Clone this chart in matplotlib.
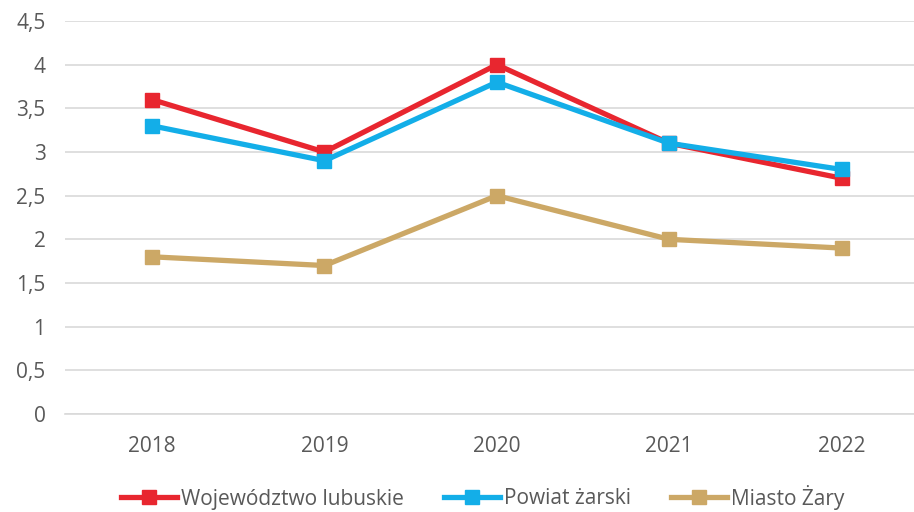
import matplotlib
matplotlib.use("Agg")
import matplotlib.pyplot as plt

years = ["2018", "2019", "2020", "2021", "2022"]
woj = [3.6, 3.0, 4.0, 3.1, 2.7]
powiat = [3.3, 2.9, 3.8, 3.1, 2.8]
miasto = [1.8, 1.7, 2.5, 2.0, 1.9]
labels = ["Województwo lubuskie", "Powiat żarski", "Miasto Żary"]
colors = ["#E8262F", "#13AEE8", "#CCA866"]

plt.rcParams["font.family"] = ["Open Sans", "DejaVu Sans"]
fig = plt.figure(figsize=(9.14, 5.12), dpi=100)
ax = fig.add_axes([65 / 914, 1 - 414 / 512, 1 - 65 / 914, (414 - 21) / 512])

x = range(len(years))
for vals, lab, c in zip([woj, powiat, miasto], labels, colors):
    ax.plot(x, vals, color=c, lw=3.8, marker="s", markersize=10, label=lab,
            solid_joinstyle="miter")

ax.set_xlim(-0.505, 4.42)
ax.set_ylim(0, 4.5)
ax.set_yticks([0, 0.5, 1, 1.5, 2, 2.5, 3, 3.5, 4, 4.5])
ax.set_yticklabels(["0", "0,5", "1", "1,5", "2", "2,5", "3", "3,5", "4", "4,5"])
ax.set_xticks(list(x))
ax.set_xticklabels(years)
ax.grid(axis="y", color="#D9D9D9", lw=1.2)
ax.set_axisbelow(True)
for s in ["top", "right", "left"]:
    ax.spines[s].set_visible(False)
ax.spines["bottom"].set_color("#D9D9D9")
ax.spines["bottom"].set_linewidth(1.2)
ax.tick_params(length=0, labelsize=15, colors="#595959")
ax.tick_params(axis="x", pad=16)
ax.tick_params(axis="y", pad=14)

fig.legend(loc="center", bbox_to_anchor=(0.528, 1 - 497 / 512), ncol=3, frameon=False,
           fontsize=15, labelcolor="#595959", handlelength=2.7, handletextpad=0.2,
           columnspacing=1.9, borderpad=0)

fig.savefig("out.png", dpi=100)
